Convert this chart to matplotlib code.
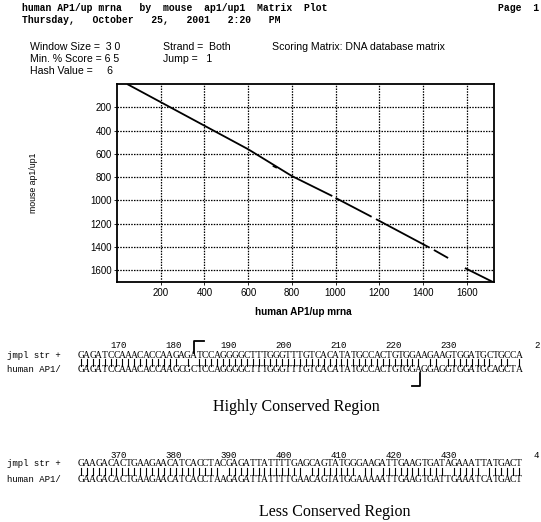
import numpy as np
import matplotlib
matplotlib.use("Agg")
import matplotlib.pyplot as plt
from matplotlib.lines import Line2D

W, H = 541, 522

# ---------------- data ----------------
header1 = "human AP1/up mrna   by  mouse  ap1/up1  Matrix  Plot"
header2 = "Thursday,   October   25,   2001   2:20   PM"
page_label = "Page  1"
params_col1 = ["Window Size =  3 0", "Min. % Score = 6 5", "Hash Value =     6"]
params_col2 = ["Strand =  Both", "Jump =   1"]
params_col3 = ["Scoring Matrix: DNA database matrix"]

x_ticks = [200, 400, 600, 800, 1000, 1200, 1400, 1600]
y_ticks = [200, 400, 600, 800, 1000, 1200, 1400, 1600]
x_max, y_max = 1725, 1700
x_label = "human AP1/up mrna"
y_label = "mouse ap1/up1"

# diagonal match segments (NaN = break)
diag_x = [46, 600, 800, 985, np.nan, 1000, 1165, np.nan, 1185, 1430, np.nan, 1450, 1515, np.nan, 1592, 1720]
diag_y = [0, 560, 790, 962, np.nan, 978, 1140, np.nan, 1160, 1405, np.nan, 1425, 1494, np.nan, 1580, 1700]
dot_x = [716, 728]
dot_y = [706, 717]

name_top = "jmpl str +"
name_bot = "human AP1/"

hc_top = "GAGATCCAAACACCAAGAGATCCAGGGGCTTTGGGTTTGTCACATATGCCACTGTGGAAGAAGTGGATGCTGCCA"
hc_bot = "GAGATCCAAACACCAAGCGCTCCAGGGGCTTTGGGTTTGTCACATATGCCACTGTGGAGGAGGTGGATGCAGCTA"
hc_ruler = [170, 180, 190, 200, 210, 220, 230, 240]
hc_caption = "Highly Conserved Region"

lc_top = "GAAGACACTGAAGAACATCACCTACGAGATTATTTTGAGCAGTATGGGAAGATTGAAGTGATAGAAATTATGACT"
lc_bot = "GAAGACACTGAAGAACATCACCTAAGAGATTATTTTGAACAGTATGGAAAAATTGAAGTGATTGAAATCATGACT"
lc_ruler = [370, 380, 390, 400, 410, 420, 430, 440]
lc_caption = "Less Conserved Region"

# ---------------- layout helpers ----------------
fig = plt.figure(figsize=(W / 100, H / 100), dpi=100)
fig.patch.set_facecolor("white")

def P(x, y):
    return x / W, 1 - y / H

MONO = "Liberation Mono"
SANS = "Liberation Sans"
SERIF = "Liberation Serif"

def ftext(x, y, s, **kw):
    fig.text(*P(x, y), s, **kw)

def fline(xs, ys, **kw):
    fig.add_artist(Line2D([x / W for x in xs], [1 - y / H for y in ys],
                          transform=fig.transFigure, color="black", **kw))

# header
ftext(22, 8, header1, family=MONO, weight="bold", fontsize=7, va="center")
ftext(22, 20, header2, family=MONO, weight="bold", fontsize=7, va="center")
ftext(498, 8, page_label, family=MONO, weight="bold", fontsize=7, va="center")

for i, s in enumerate(params_col1):
    ftext(30, 47 + 12 * i, s, family=SANS, fontsize=7.6, va="center")
for i, s in enumerate(params_col2):
    ftext(163, 47 + 12 * i, s, family=SANS, fontsize=7.6, va="center")
for i, s in enumerate(params_col3):
    ftext(272, 47 + 12 * i, s, family=SANS, fontsize=7.6, va="center")

# ---------------- dot plot ----------------
ax_l, ax_t, ax_r, ax_b = 117, 84, 494, 282
ax = fig.add_axes([ax_l / W, 1 - ax_b / H, (ax_r - ax_l) / W, (ax_b - ax_t) / H])
ax.set_xlim(0, x_max)
ax.set_ylim(y_max, 0)
ax.set_xticks(x_ticks)
ax.set_yticks(y_ticks)
ax.set_xticklabels([str(v) for v in x_ticks], family=SANS, fontsize=7)
ax.set_yticklabels([str(v) for v in y_ticks], family=SANS, fontsize=7)
ax.tick_params(length=2, width=0.6, pad=2, colors="black")
ax.grid(True, color="black", linestyle=(0, (1.2, 1.0)), linewidth=0.9)
for sp in ax.spines.values():
    sp.set_linewidth(1.3)
    sp.set_color("black")
ax.plot(diag_x, diag_y, color="black", linewidth=1.3, solid_capstyle="butt")
ax.plot(dot_x, dot_y, color="black", linewidth=1.2)

ftext(33, 183, y_label, family=SANS, fontsize=6.3, rotation=90, ha="center", va="center")
ftext(303, 312, x_label, family=SANS, weight="bold", fontsize=7.2, ha="center", va="center")

# ---------------- alignments ----------------
seq_x0 = 78
char_w = 5.92
ruler_x0 = 119
ruler_dx = 5.5
page_edge_x = 534   # last ruler number is cut at the page edge: only its first digit shows

def alignment(top, bot, ruler, y_ruler, y_top, y_bar, y_bot):
    ftext(7, y_top, name_top, family=MONO, fontsize=6.5, va="center")
    ftext(7, y_bot, name_bot, family=MONO, fontsize=6.5, va="center")
    for k, n in enumerate(ruler):
        if k < len(ruler) - 1:
            ftext(ruler_x0 + (n - ruler[0]) * ruler_dx, y_ruler, str(n),
                  family=MONO, fontsize=6.6, ha="center", va="center")
        else:
            ftext(page_edge_x, y_ruler, str(n)[:1],
                  family=MONO, fontsize=6.6, ha="left", va="center")
    for i, (a, b) in enumerate(zip(top, bot)):
        x = seq_x0 + i * char_w + char_w / 2
        ftext(x, y_top, a, family=SERIF, fontsize=6.9, ha="center", va="center")
        ftext(x, y_bot, b, family=SERIF, fontsize=6.9, ha="center", va="center")
        if a == b:
            fline([x, x], [y_bar - 3.2, y_bar + 3.2], linewidth=0.8)

alignment(hc_top, hc_bot, hc_ruler, 346, 355, 362.5, 370)
ftext(296, 407, hc_caption, family=SERIF, fontsize=11.5, ha="center", va="center")

alignment(lc_top, lc_bot, lc_ruler, 456, 464, 471.5, 479)
ftext(335, 512, lc_caption, family=SERIF, fontsize=11.5, ha="center", va="center")

# bracket marks on highly conserved region
fline([194, 194, 204], [353, 341, 341], linewidth=1.3)
fline([420, 420, 412], [373, 386, 386], linewidth=1.3)

fig.savefig("out.png", dpi=100, facecolor="white")
